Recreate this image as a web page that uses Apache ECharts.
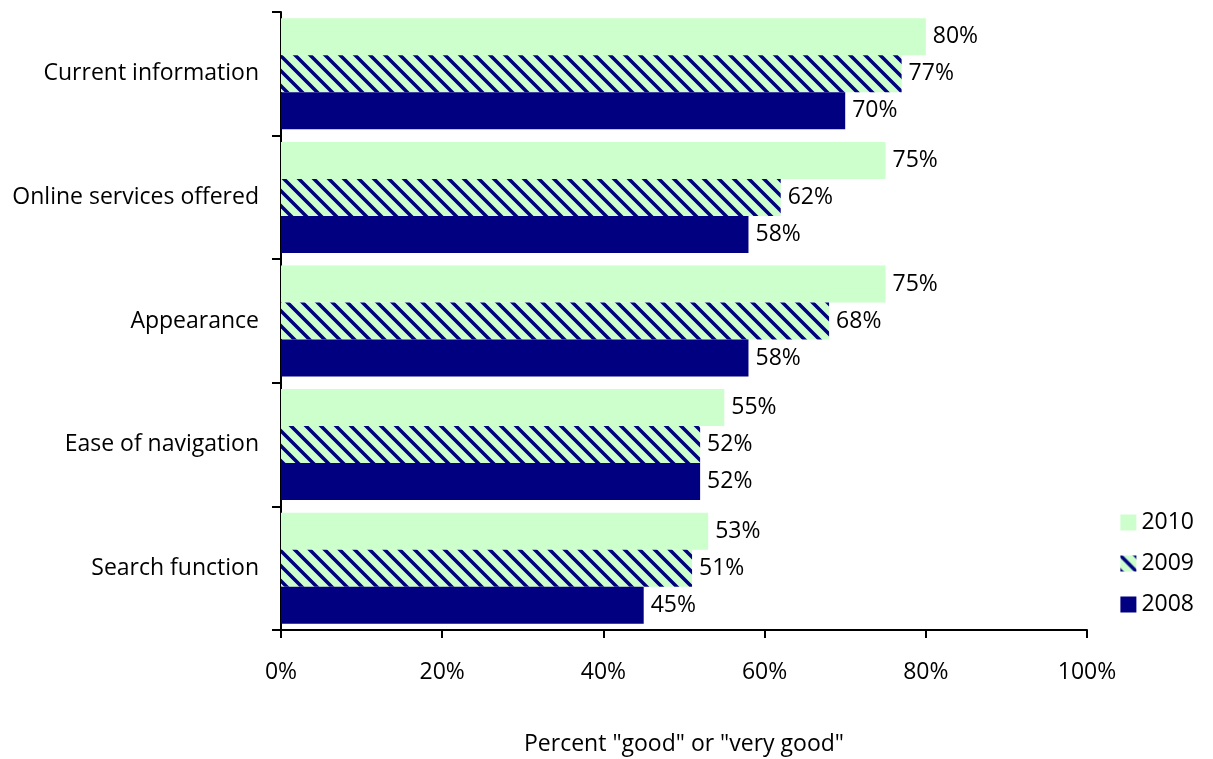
<!DOCTYPE html>
<html>
<head>
<meta charset="utf-8">
<script src="https://cdn.jsdelivr.net/npm/echarts@6/dist/echarts.min.js"></script>
<style>
  html, body { margin: 0; padding: 0; background: #fff; }
</style>
</head>
<body>
<div id="main" style="width: 1213px;height:759px;"></div>
<script type="text/javascript">
    var categories = ['Current information', 'Online services offered', 'Appearance', 'Ease of navigation', 'Search function'];
    var values2010 = [80, 75, 75, 55, 53];
    var values2009 = [77, 62, 68, 52, 51];
    var values2008 = [70, 58, 58, 52, 45];
    var xTicks = [0, 20, 40, 60, 80, 100];

    var fontName = '"Open Sans", Lato, sans-serif';

    // diagonal stripes for 2009
    function makeHatch() {
        var s = 15;
        var c = document.createElement('canvas');
        c.width = s; c.height = s;
        var g = c.getContext('2d');
        g.fillStyle = '#ccffcc';
        g.fillRect(0, 0, s, s);
        g.strokeStyle = '#000080';
        g.lineWidth = 3.5;
        g.beginPath();
        g.moveTo(-s, -s); g.lineTo(2 * s, 2 * s);
        g.moveTo(-s, 0); g.lineTo(s, 2 * s);
        g.moveTo(0, -s); g.lineTo(2 * s, s);
        g.stroke();
        return c;
    }
    var hatch = { image: makeHatch(), repeat: 'repeat' };

    var labelOpt = {
        show: true,
        position: 'right',
        distance: 7,
        color: '#000',
        fontSize: 23,
        fontFamily: fontName,
        formatter: '{c}%'
    };

    var myChart = echarts.init(document.getElementById('main'));

    var option = {
        animation: false,
        textStyle: { fontFamily: fontName },
        grid: { left: 281, right: 126, top: 12, bottom: 129, containLabel: false, outerBoundsMode: 'none' },
        legend: {
            orient: 'vertical',
            right: 14,
            top: 506,
            itemWidth: 16,
            itemHeight: 16,
            itemGap: 18,
            icon: 'rect',
            textStyle: { fontSize: 23, color: '#000', fontFamily: fontName },
            data: ['2010', '2009', '2008']
        },
        xAxis: {
            type: 'value',
            min: 0,
            max: 100,
            interval: 20,
            name: 'Percent "good" or "very good"',
            nameLocation: 'middle',
            nameGap: 103,
            nameTextStyle: { fontSize: 23, color: '#000', fontFamily: fontName },
            axisLine: { show: true, lineStyle: { color: '#000', width: 2 } },
            axisTick: { show: true, length: 8, lineStyle: { color: '#000', width: 2 } },
            splitLine: { show: false },
            axisLabel: {
                margin: 31,
                fontSize: 23,
                color: '#000',
                formatter: function (v) { return xTicks.indexOf(v) >= 0 ? v + '%' : ''; }
            }
        },
        yAxis: {
            type: 'category',
            inverse: true,
            data: categories,
            axisLine: { show: true, lineStyle: { color: '#000', width: 2 } },
            axisTick: { show: true, length: 9, lineStyle: { color: '#000', width: 2 } },
            axisLabel: { margin: 22, fontSize: 23, color: '#000' }
        },
        series: [
            {
                name: '2010', type: 'bar', barWidth: 37, barGap: '0%',
                itemStyle: { color: '#ccffcc' },
                label: labelOpt,
                data: values2010
            },
            {
                name: '2009', type: 'bar', barWidth: 37, barGap: '0%',
                itemStyle: { color: hatch },
                label: labelOpt,
                data: values2009
            },
            {
                name: '2008', type: 'bar', barWidth: 37, barGap: '0%',
                itemStyle: { color: '#000080' },
                label: labelOpt,
                data: values2008
            }
        ]
    };

    myChart.setOption(option);
</script>
</body>
</html>
